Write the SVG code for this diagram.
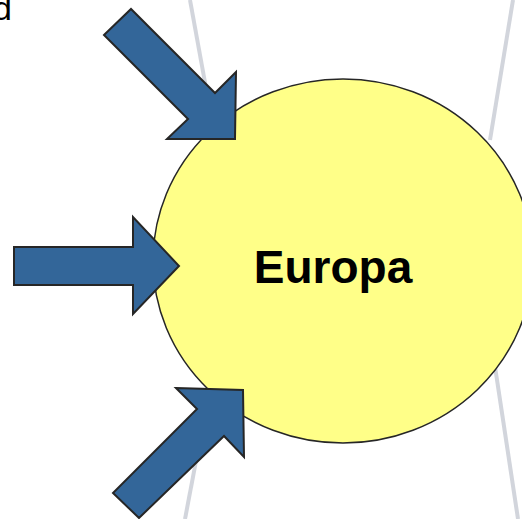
<svg xmlns="http://www.w3.org/2000/svg" width="522" height="519" viewBox="0 0 522 519">
<style>
.guide{stroke:#d2d5dc;stroke-width:4;fill:none}
.arrow{fill:#336699;stroke:#262626;stroke-width:2;stroke-linejoin:miter}
.lbl{font-family:"Liberation Sans",Arial,sans-serif;fill:#000}
</style>
<rect width="522" height="519" fill="#fff"/>
<g id="connectors">
<line class="guide" x1="190" y1="0" x2="210" y2="110"/>
<line class="guide" x1="513" y1="0" x2="490" y2="140"/>
<line class="guide" x1="200" y1="440" x2="185" y2="519"/>
<line class="guide" x1="494" y1="360" x2="518" y2="519"/>
</g>
<text class="lbl" x="12" y="20" font-size="34" text-anchor="end">d</text>
<g id="europa">
<ellipse cx="343" cy="261" rx="190" ry="182" fill="#ffff88" stroke="#262626" stroke-width="1.5"/>
<text class="lbl" x="333" y="283" font-size="46" font-weight="bold" text-anchor="middle">Europa</text>
</g>
<g id="arrow-top">
<polygon class="arrow" points="104,35 131,9 215,93 236,72 235,139 167,139 188,119"/>
</g>
<g id="arrow-left">
<polygon class="arrow" points="14,247 133,247 133,217 179,266 133,314 133,285 14,285"/>
</g>
<g id="arrow-bottom">
<polygon class="arrow" points="176,388 243,390 244,457 224,436 139,518 113,493 197,409"/>
</g>
</svg>
